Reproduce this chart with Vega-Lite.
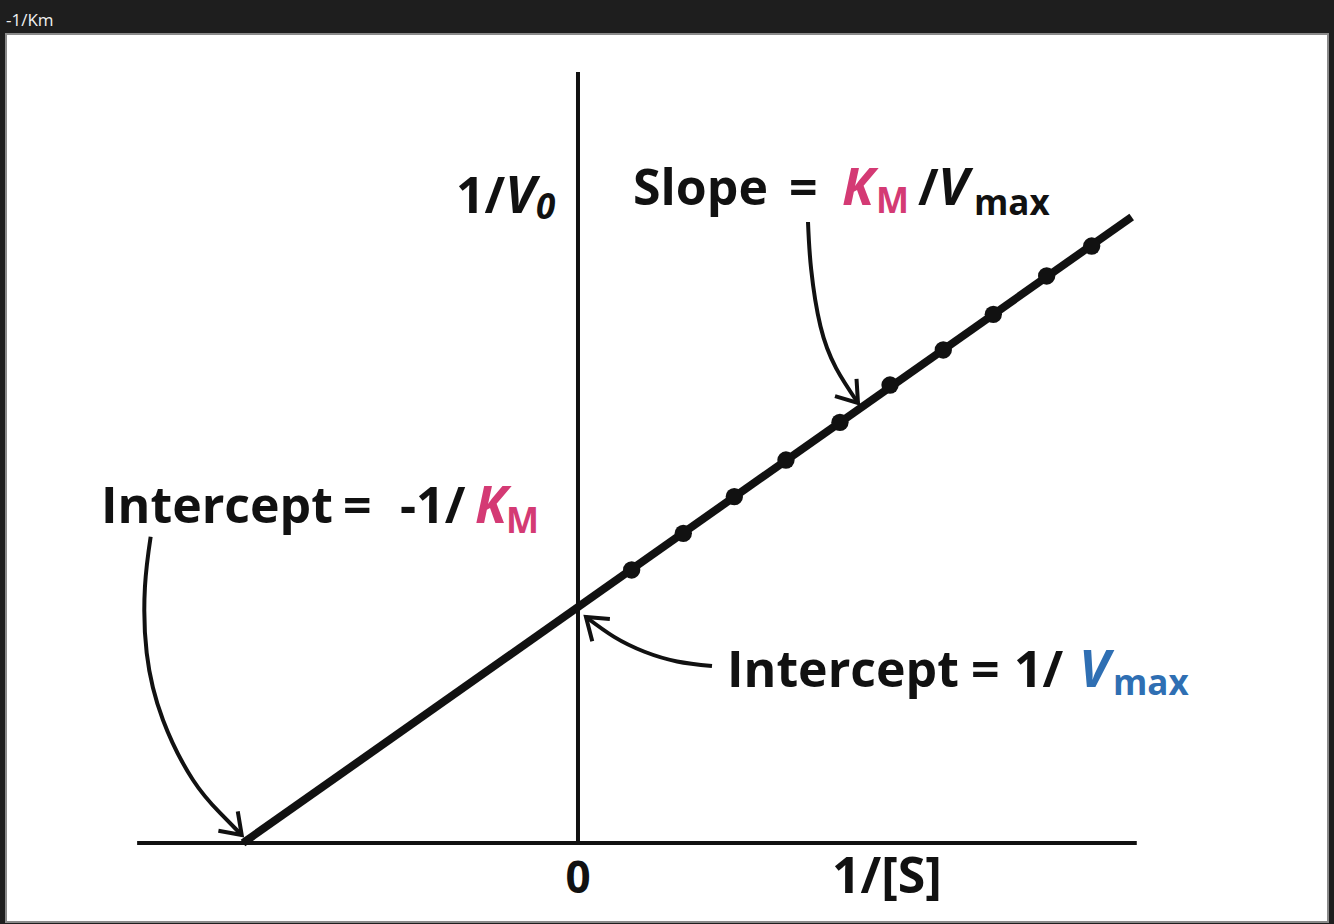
{
  "$schema": "https://vega.github.io/schema/vega-lite/v6.json",
  "autosize": {"type": "none"},
  "width": 1322,
  "height": 888,
  "padding": {"left": 6, "top": 34, "right": 6, "bottom": 2},
  "background": "#1e1e1e",
  "title": {
    "text": "-1/Km",
    "anchor": "start",
    "frame": "group",
    "orient": "top",
    "baseline": "alphabetic",
    "offset": 8,
    "dy": 17,
    "font": "Open Sans",
    "fontSize": 17,
    "fontWeight": "normal",
    "color": "#f0f0f0"
  },
  "config": {
    "view": {"fill": "#ffffff", "stroke": "#8a8a8a", "strokeWidth": 2},
    "text": {"font": "Open Sans", "fontWeight": "bold", "baseline": "alphabetic", "align": "left"}
  },
  "datasets": {
    "axes": [
      {"axis": "1/[S]", "x": -0.658, "x2": 0.834, "y": 0, "y2": 0},
      {"axis": "1/V0", "x": 0, "x2": 0, "y": 0, "y2": 1.6335}
    ],
    "fit": [
      {"x": -0.5, "y": 0},
      {"x": 0.8264, "y": 1.3264}
    ],
    "obs": [
      {"x": 0.0801, "y": 0.5784},
      {"x": 0.1572, "y": 0.6561},
      {"x": 0.2333, "y": 0.7337},
      {"x": 0.3104, "y": 0.8114},
      {"x": 0.3910, "y": 0.8913},
      {"x": 0.4657, "y": 0.9703},
      {"x": 0.5452, "y": 1.0445},
      {"x": 0.6199, "y": 1.1201},
      {"x": 0.6995, "y": 1.2013},
      {"x": 0.7667, "y": 1.2648}
    ],
    "arrows": [
      {"id": "slope", "kind": "shaft", "i": 0, "x": 0.3433, "y": 1.3157},
      {"id": "slope", "kind": "shaft", "i": 1, "x": 0.3479, "y": 1.2169},
      {"id": "slope", "kind": "shaft", "i": 2, "x": 0.3619, "y": 1.0947},
      {"id": "slope", "kind": "shaft", "i": 3, "x": 0.3852, "y": 1.0061},
      {"id": "slope", "kind": "shaft", "i": 4, "x": 0.4179, "y": 0.9322},
      {"id": "slope-head", "kind": "head", "i": 0, "x": 0.4157, "y": 0.9831},
      {"id": "slope-head", "kind": "head", "i": 1, "x": 0.4179, "y": 0.9322},
      {"id": "slope-head", "kind": "head", "i": 2, "x": 0.3836, "y": 0.9466},
      {"id": "vmax", "kind": "shaft", "i": 0, "x": 0.2000, "y": 0.3750},
      {"id": "vmax", "kind": "shaft", "i": 1, "x": 0.1479, "y": 0.3847},
      {"id": "vmax", "kind": "shaft", "i": 2, "x": 0.0993, "y": 0.4052},
      {"id": "vmax", "kind": "shaft", "i": 3, "x": 0.0539, "y": 0.4367},
      {"id": "vmax", "kind": "shaft", "i": 4, "x": 0.0119, "y": 0.4788},
      {"id": "vmax-head", "kind": "head", "i": 0, "x": 0.0476, "y": 0.4746},
      {"id": "vmax-head", "kind": "head", "i": 1, "x": 0.0119, "y": 0.4788},
      {"id": "vmax-head", "kind": "head", "i": 2, "x": 0.0213, "y": 0.4276},
      {"id": "km", "kind": "shaft", "i": 0, "x": -0.6378, "y": 0.6489},
      {"id": "km", "kind": "shaft", "i": 1, "x": -0.6463, "y": 0.5430},
      {"id": "km", "kind": "shaft", "i": 2, "x": -0.6437, "y": 0.4025},
      {"id": "km", "kind": "shaft", "i": 3, "x": -0.6194, "y": 0.2606},
      {"id": "km", "kind": "shaft", "i": 4, "x": -0.5746, "y": 0.1335},
      {"id": "km", "kind": "shaft", "i": 5, "x": -0.5343, "y": 0.0636},
      {"id": "km", "kind": "shaft", "i": 6, "x": -0.5019, "y": 0.0169},
      {"id": "km-head", "kind": "head", "i": 0, "x": -0.5078, "y": 0.0669},
      {"id": "km-head", "kind": "head", "i": 1, "x": -0.5019, "y": 0.0169},
      {"id": "km-head", "kind": "head", "i": 2, "x": -0.5367, "y": 0.0258}
    ],
    "labels": [
      {"text": "1/", "role": "plain", "term": "none", "x": -0.1821, "y": 1.3347},
      {"text": "V", "role": "var", "term": "none", "x": -0.1090, "y": 1.3347},
      {"text": "0", "role": "subvar", "term": "none", "x": -0.0627, "y": 1.3220},
      {"text": "Slope", "role": "plain", "term": "none", "x": 0.0821, "y": 1.3517},
      {"text": "=", "role": "plain", "term": "none", "x": 0.3149, "y": 1.3517},
      {"text": "K", "role": "var", "term": "Km", "x": 0.3940, "y": 1.3517},
      {"text": "M", "role": "sub", "term": "Km", "x": 0.4448, "y": 1.3347},
      {"text": "/", "role": "plain", "term": "none", "x": 0.5075, "y": 1.3517},
      {"text": "V", "role": "var", "term": "none", "x": 0.5373, "y": 1.3517},
      {"text": "max", "role": "sub", "term": "none", "x": 0.5910, "y": 1.3305},
      {"text": "Intercept", "role": "plain", "term": "none", "x": -0.7119, "y": 0.6780},
      {"text": "=", "role": "plain", "term": "none", "x": -0.3507, "y": 0.6780},
      {"text": "-1/", "role": "plain", "term": "none", "x": -0.2657, "y": 0.6780},
      {"text": "K", "role": "var", "term": "Km", "x": -0.1537, "y": 0.6780},
      {"text": "M", "role": "sub", "term": "Km", "x": -0.1075, "y": 0.6568},
      {"text": "Intercept", "role": "plain", "term": "none", "x": 0.2224, "y": 0.3305},
      {"text": "=", "role": "plain", "term": "none", "x": 0.5866, "y": 0.3305},
      {"text": "1/", "role": "plain", "term": "none", "x": 0.6507, "y": 0.3305},
      {"text": "V", "role": "var", "term": "Vmax", "x": 0.7478, "y": 0.3305},
      {"text": "max", "role": "sub", "term": "Vmax", "x": 0.7985, "y": 0.3136},
      {"text": "1/[S]", "role": "plain", "term": "none", "x": 0.3791, "y": -0.1059},
      {"text": "0", "role": "tick", "term": "none", "x": 0, "y": -0.1059}
    ]
  },
  "encoding": {
    "x": {"field": "x", "type": "quantitative", "axis": null, "scale": {"domain": [-0.8537, 1.1194], "nice": false, "zero": false}},
    "y": {"field": "y", "type": "quantitative", "axis": null, "scale": {"domain": [-0.1674, 1.714], "nice": false, "zero": false}}
  },
  "layer": [
    {
      "data": {"name": "axes"},
      "mark": {"type": "rule", "color": "#111111", "strokeWidth": 4, "strokeCap": "butt"},
      "encoding": {"x2": {"field": "x2"}, "y2": {"field": "y2"}}
    },
    {
      "data": {"name": "fit"},
      "mark": {"type": "line", "color": "#111111", "strokeWidth": 8, "strokeCap": "butt"},
      "encoding": {}
    },
    {
      "data": {"name": "obs"},
      "mark": {"type": "point", "shape": "circle", "filled": true, "color": "#111111", "size": 300, "opacity": 1},
      "encoding": {}
    },
    {
      "data": {"name": "arrows"},
      "transform": [{"filter": "datum.kind === 'shaft'"}],
      "mark": {"type": "line", "color": "#111111", "strokeWidth": 4, "interpolate": "natural", "strokeCap": "butt"},
      "encoding": {"detail": {"field": "id"}, "order": {"field": "i", "type": "quantitative"}}
    },
    {
      "data": {"name": "arrows"},
      "transform": [{"filter": "datum.kind === 'head'"}],
      "mark": {"type": "line", "color": "#111111", "strokeWidth": 4, "strokeJoin": "miter", "strokeCap": "butt"},
      "encoding": {"detail": {"field": "id"}, "order": {"field": "i", "type": "quantitative"}}
    },
    {
      "data": {"name": "labels"},
      "transform": [{"filter": "datum.role === 'plain'"}],
      "mark": {"type": "text", "fontSize": 50},
      "encoding": {
        "text": {"field": "text"},
        "color": {"field": "term", "type": "nominal", "legend": null, "scale": {"domain": ["none", "Km", "Vmax"], "range": ["#111111", "#d43a74", "#2f6fb3"]}}
      }
    },
    {
      "data": {"name": "labels"},
      "transform": [{"filter": "datum.role === 'var'"}],
      "mark": {"type": "text", "fontSize": 52, "fontStyle": "italic"},
      "encoding": {
        "text": {"field": "text"},
        "color": {"field": "term", "type": "nominal", "legend": null, "scale": {"domain": ["none", "Km", "Vmax"], "range": ["#111111", "#d43a74", "#2f6fb3"]}}
      }
    },
    {
      "data": {"name": "labels"},
      "transform": [{"filter": "datum.role === 'sub'"}],
      "mark": {"type": "text", "fontSize": 35},
      "encoding": {
        "text": {"field": "text"},
        "color": {"field": "term", "type": "nominal", "legend": null, "scale": {"domain": ["none", "Km", "Vmax"], "range": ["#111111", "#d43a74", "#2f6fb3"]}}
      }
    },
    {
      "data": {"name": "labels"},
      "transform": [{"filter": "datum.role === 'subvar'"}],
      "mark": {"type": "text", "fontSize": 35, "fontStyle": "italic"},
      "encoding": {
        "text": {"field": "text"},
        "color": {"field": "term", "type": "nominal", "legend": null, "scale": {"domain": ["none", "Km", "Vmax"], "range": ["#111111", "#d43a74", "#2f6fb3"]}}
      }
    },
    {
      "data": {"name": "labels"},
      "transform": [{"filter": "datum.role === 'tick'"}],
      "mark": {"type": "text", "fontSize": 44, "align": "center"},
      "encoding": {
        "text": {"field": "text"},
        "color": {"field": "term", "type": "nominal", "legend": null, "scale": {"domain": ["none", "Km", "Vmax"], "range": ["#111111", "#d43a74", "#2f6fb3"]}}
      }
    }
  ]
}
